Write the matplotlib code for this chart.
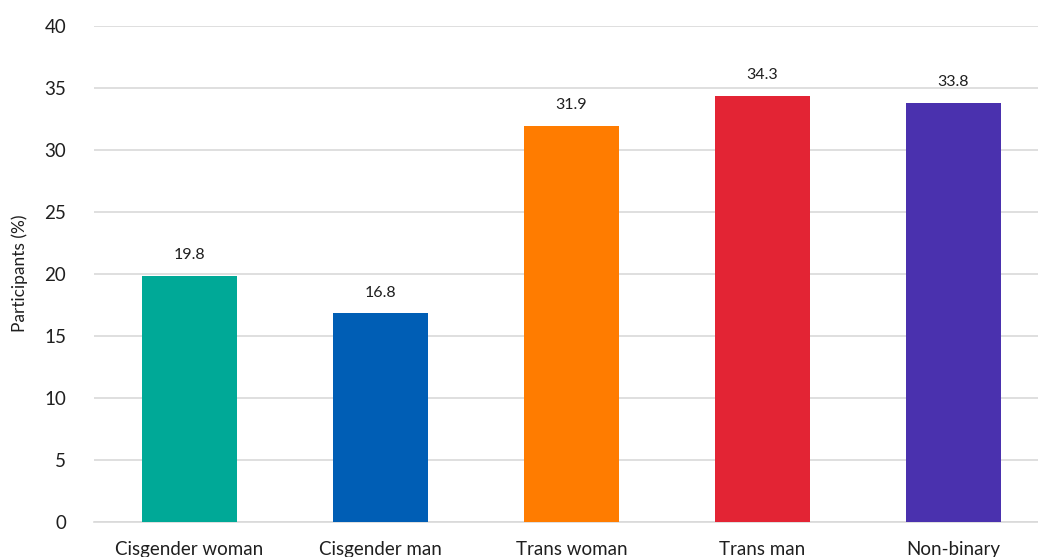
import matplotlib
matplotlib.use("Agg")
import matplotlib.pyplot as plt

# data
categories = ["Cisgender woman", "Cisgender man", "Trans woman", "Trans man", "Non-binary"]
values = [19.8, 16.8, 31.9, 34.3, 33.8]
colors = ["#00A997", "#005EB5", "#FF7C00", "#E32434", "#4A31AE"]
yticks = [0, 5, 10, 15, 20, 25, 30, 35, 40]

plt.rcParams["font.family"] = ["Lato", "DejaVu Sans"]
text_color = "#1f1f1f"

fig = plt.figure(figsize=(10.38, 5.57), dpi=100)
# the reference is cropped on the right and bottom, so the axes run past the edge
ax = fig.add_axes([94 / 1038, 0.0632, 955 / 1038, 0.8907])

x = range(len(categories))
bars = ax.bar(x, values, width=0.5, color=colors, zorder=3)

for rect, v in zip(bars, values):
    ax.annotate(f"{v:.1f}", xy=(rect.get_x() + rect.get_width() / 2, v),
                xytext=(0, 10), textcoords="offset points",
                ha="center", va="bottom", fontsize=11.5, color=text_color)

ax.set_xlim(-0.5, len(categories) - 0.5)
ax.set_ylim(0, 40)
ax.set_yticks(yticks)
ax.set_yticklabels([str(t) for t in yticks], fontsize=13.5, color=text_color)
ax.set_xticks(list(x))
ax.set_xticklabels(categories, fontsize=13.5, color=text_color)
ax.tick_params(axis="both", length=0)
ax.tick_params(axis="y", pad=20)
ax.tick_params(axis="x", pad=14)

ax.set_ylabel("Participants (%)", fontsize=12.5, color=text_color, labelpad=12)

ax.grid(axis="y", color="#d9d9d9", linewidth=1.2, zorder=0)
for side in ["top", "right", "left"]:
    ax.spines[side].set_visible(False)
ax.spines["bottom"].set_color("#d9d9d9")
ax.spines["bottom"].set_linewidth(1.2)

fig.savefig("out.png", dpi=100)
